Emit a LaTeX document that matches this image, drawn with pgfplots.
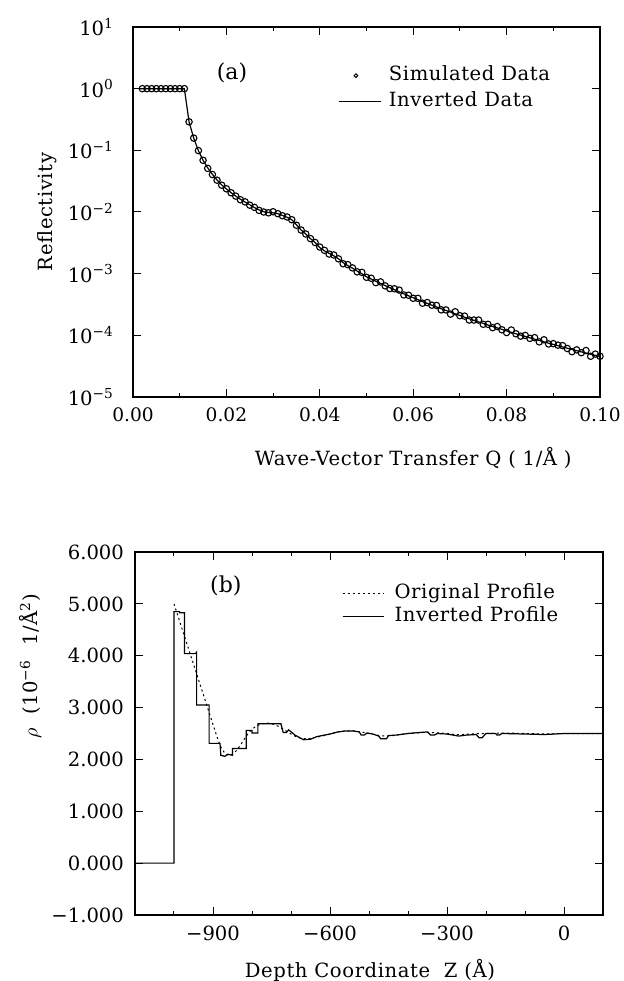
\documentclass[border=0pt]{standalone}
\usepackage{pgfplots}
\pgfplotsset{compat=1.18}
\usepackage{fontspec}
\newfontfamily\tickfont{DejaVu Serif}
\newfontfamily\labfont[LetterSpace=3]{DejaVu Serif}
\newcommand{\tf}{\tickfont\fontsize{9.3}{10}\selectfont}
\newcommand{\tfb}{\tickfont\fontsize{9.8}{10}\selectfont}
\newcommand{\lf}{\labfont\fontsize{9.8}{12}\selectfont}
\begin{document}
\begin{tikzpicture}[x=1pt,y=1pt]
\path[use as bounding box] (0,0) rectangle (311.5,490.5);
% ---------------- (a) ----------------
\begin{axis}[
  at={(66.5pt,292pt)}, anchor=south west,
  scale only axis, width=233.5pt, height=185pt,
  xmin=0, xmax=0.1, ymode=log, ymin=1e-5, ymax=10,
  axis line style={line width=0.65pt},
  xtick={0,0.02,0.04,0.06,0.08,0.1},
  xticklabels={0.00,0.02,0.04,0.06,0.08,0.10},
  minor xtick={0.01,0.03,0.05,0.07,0.09},
  ytick={1e-5,1e-4,1e-3,1e-2,1e-1,1,10},
  yticklabels={10\textsuperscript{−5},10\textsuperscript{−4},10\textsuperscript{−3},10\textsuperscript{−2},10\textsuperscript{−1},10\textsuperscript{0},10\textsuperscript{1}},
  yminorticks=false,
  tick align=inside, major tick length=4pt, minor tick length=2pt,
  every tick/.style={black,line width=0.5pt},
  xticklabel style={font=\tf, yshift=-2pt},
  yticklabel style={font=\tfb, xshift=-6pt},
  xlabel={Wave-Vector Transfer Q\ ( 1/Å )},
  xlabel style={font=\lf, at={(axis description cs:0.60,-0.165)}, anchor=center},
  ylabel={Reflectivity},
  ylabel style={font=\lf, at={(axis description cs:-0.184,0.5)}, anchor=center, rotate=0},
  legend cell align=left,
  legend style={at={(axis cs:0.0439,1)}, anchor=west, draw=none, fill=none,
    inner sep=0pt, row sep=2pt, font=\lf,
    nodes={inner sep=1pt, text height=7pt, text depth=2pt}},
]
\addplot[only marks, mark=o, mark size=1.6pt, mark options={line width=0.55pt},
  legend image code/.code={\path[draw=none] (0pt,0pt) -- (24pt,0pt); \draw[line width=0.5pt] (8.5pt,0pt) circle (0.9pt);}]
coordinates {
(0.002,1)(0.003,1)(0.004,1)(0.005,1)(0.006,1)(0.007,1)(0.008,1)(0.009,1)(0.010,1)(0.011,1)
(0.012,0.29)(0.013,0.158)(0.014,0.099)(0.015,0.069)(0.016,0.051)(0.017,0.0405)(0.018,0.0328)(0.019,0.0272)(0.020,0.0238)
(0.021,0.0205)(0.022,0.0181)(0.023,0.0158)(0.024,0.0146)(0.025,0.0129)(0.026,0.0119)(0.027,0.0106)(0.028,0.0100)(0.029,0.0097)(0.030,0.0101)
(0.031,0.0094)(0.032,0.0087)(0.033,0.0083)(0.034,0.0075)(0.035,0.0061)(0.036,0.0051)(0.037,0.0044)(0.038,0.0037)(0.039,0.0032)(0.040,0.0027)
(0.041,2.39e-3)(0.042,2.08e-3)(0.043,2.01e-3)(0.044,1.74e-3)(0.045,1.45e-3)(0.046,1.40e-3)(0.047,1.24e-3)(0.048,1.07e-3)(0.049,1.05e-3)(0.050,8.73e-4)
(0.051,8.43e-4)(0.052,7.15e-4)(0.053,7.36e-4)(0.054,6.34e-4)(0.055,5.74e-4)(0.056,5.69e-4)(0.057,5.42e-4)(0.058,4.52e-4)(0.059,4.47e-4)(0.060,3.99e-4)
(0.061,3.98e-4)(0.062,3.32e-4)(0.063,3.40e-4)(0.064,3.08e-4)(0.065,3.05e-4)(0.066,2.59e-4)(0.067,2.58e-4)(0.068,2.21e-4)(0.069,2.41e-4)(0.070,2.08e-4)
(0.071,2.05e-4)(0.072,1.77e-4)(0.073,1.77e-4)(0.074,1.77e-4)(0.075,1.51e-4)(0.076,1.51e-4)(0.077,1.33e-4)(0.078,1.39e-4)(0.079,1.23e-4)(0.080,1.11e-4)
(0.081,1.22e-4)(0.082,1.06e-4)(0.083,9.70e-5)(0.084,9.96e-5)(0.085,8.92e-5)(0.086,9.17e-5)(0.087,7.83e-5)(0.088,8.47e-5)(0.089,7.24e-5)(0.090,7.32e-5)
(0.091,6.93e-5)(0.092,6.80e-5)(0.093,6.12e-5)(0.094,5.43e-5)(0.095,5.81e-5)(0.096,5.23e-5)(0.097,5.67e-5)(0.098,4.58e-5)(0.099,4.96e-5)(0.100,4.58e-5)
};
\addlegendentry{Simulated Data}
\addplot[black, line width=0.6pt, mark=none,
  legend image code/.code={\draw[line width=0.5pt] (0pt,0pt) -- (21pt,0pt); \path[draw=none] (24pt,0pt);}]
coordinates {
(0.0015,1)(0.011,1)
(0.012,0.29)(0.013,0.158)(0.014,0.099)(0.015,0.069)(0.016,0.052)(0.017,0.0408)(0.018,0.0330)(0.019,0.0275)(0.020,0.0236)
(0.021,0.0206)(0.022,0.0181)(0.023,0.0161)(0.024,0.0145)(0.025,0.0131)(0.026,0.0118)(0.027,0.0108)(0.028,0.0101)(0.029,0.0098)(0.030,0.0097)
(0.031,0.0094)(0.032,0.0088)(0.033,0.0082)(0.034,0.0075)(0.035,0.0062)(0.036,0.0051)(0.037,0.0044)(0.038,0.0037)(0.039,0.0032)(0.040,0.00265)
(0.041,2.34e-3)(0.042,2.14e-3)(0.043,1.95e-3)(0.044,1.74e-3)(0.045,1.51e-3)(0.046,1.35e-3)(0.047,1.23e-3)(0.048,1.10e-3)(0.049,1.00e-3)(0.050,8.91e-4)
(0.051,8.18e-4)(0.052,7.53e-4)(0.053,6.94e-4)(0.054,6.40e-4)(0.055,5.92e-4)(0.056,5.47e-4)(0.057,5.07e-4)(0.058,4.71e-4)(0.059,4.38e-4)(0.060,4.07e-4)
(0.061,3.79e-4)(0.062,3.53e-4)(0.063,3.30e-4)(0.064,3.08e-4)(0.065,2.88e-4)(0.066,2.70e-4)(0.067,2.53e-4)(0.068,2.38e-4)(0.069,2.23e-4)(0.070,2.10e-4)
(0.071,1.97e-4)(0.072,1.86e-4)(0.073,1.75e-4)(0.074,1.65e-4)(0.075,1.56e-4)(0.076,1.47e-4)(0.077,1.39e-4)(0.078,1.32e-4)(0.079,1.25e-4)(0.080,1.18e-4)
(0.081,1.12e-4)(0.082,1.06e-4)(0.083,1.01e-4)(0.084,9.58e-5)(0.085,9.10e-5)(0.086,8.65e-5)(0.087,8.24e-5)(0.088,7.84e-5)(0.089,7.46e-5)(0.090,7.11e-5)
(0.091,6.79e-5)(0.092,6.48e-5)(0.093,6.18e-5)(0.094,5.90e-5)(0.095,5.64e-5)(0.096,5.39e-5)(0.097,5.15e-5)(0.098,4.93e-5)(0.099,4.72e-5)(0.100,4.53e-5)
};
\addlegendentry{Inverted Data}
\node[font=\tickfont\fontsize{11}{12}\selectfont] at (axis cs:0.0212,1.82) {(a)};
\end{axis}
% ---------------- (b) ----------------
\begin{axis}[
  at={(67.5pt,33pt)}, anchor=south west,
  scale only axis, width=234pt, height=181.5pt,
  xmin=-1100, xmax=100, ymin=-1, ymax=6,
  axis line style={line width=0.65pt},
  xtick={-900,-600,-300,0},
  xticklabels={−900,−600,−300,0},
  minor xtick={-1000,-800,-700,-500,-400,-200,-100},
  ytick={-1,0,1,2,3,4,5,6},
  yticklabels={−1.000,0.000,1.000,2.000,3.000,4.000,5.000,6.000},
  tick align=inside, major tick length=4pt, minor tick length=2pt,
  every tick/.style={black,line width=0.5pt},
  xticklabel style={font=\tfb, yshift=-2pt},
  yticklabel style={font=\tfb, xshift=-2pt},
  xlabel={Depth Coordinate\ \ Z (Å)},
  xlabel style={font=\lf, at={(axis description cs:0.502,-0.152)}, anchor=center},
  ylabel={$\rho$\ \ (10\textsuperscript{−6}\ \ 1/Å\textsuperscript{2})},
  ylabel style={font=\lf, at={(axis description cs:-0.224,0.685)}, anchor=center, rotate=0},
  legend cell align=left,
  legend style={at={(axis cs:-570,4.97)}, anchor=west, draw=none, fill=none,
    inner sep=0pt, row sep=0.5pt, font=\lf,
    nodes={inner sep=1pt, text height=7pt, text depth=2pt}},
]
\addplot[black, line width=0.5pt, dash pattern=on 1pt off 1.5pt,
  legend image code/.code={\draw[line width=0.5pt, dash pattern=on 1pt off 1.5pt] (0pt,0pt) -- (20.5pt,0pt); \path[draw=none] (25pt,0pt);}]
coordinates {
(-1000,5.0)(-960,4.07)(-920,3.14)(-890,2.44)(-880,2.24)(-870,2.12)(-860,2.08)(-850,2.10)(-840,2.17)(-830,2.27)
(-820,2.39)(-810,2.50)(-800,2.58)(-790,2.64)(-775,2.69)(-760,2.70)(-745,2.68)(-730,2.63)(-715,2.56)(-700,2.49)
(-685,2.43)(-670,2.40)(-655,2.40)(-640,2.42)(-620,2.45)(-600,2.49)(-580,2.53)(-560,2.55)(-540,2.55)(-520,2.53)
(-500,2.50)(-480,2.47)(-460,2.45)(-440,2.46)(-420,2.48)(-400,2.50)(-380,2.51)(-360,2.52)(-340,2.52)(-320,2.51)
(-300,2.50)(-280,2.48)(-260,2.48)(-240,2.49)(-220,2.50)(-200,2.50)(-150,2.51)(-100,2.50)(-50,2.49)(0,2.50)(100,2.50)
};
\addlegendentry{Original Profile}
\addplot[black, line width=0.6pt,
  legend image code/.code={\draw[line width=0.5pt] (0pt,0pt) -- (20.5pt,0pt); \path[draw=none] (25pt,0pt);}]
coordinates {
(-1100,0)(-1000,0)(-1000,4.85)(-986,4.85)(-986,4.83)(-973,4.83)(-973,4.04)(-945,4.04)(-942,4.07)(-942,3.05)
(-910,3.05)(-910,2.31)(-882,2.31)(-880,2.08)(-870,2.06)(-862,2.10)(-850,2.08)(-850,2.21)(-815,2.21)(-815,2.56)
(-800,2.56)(-800,2.51)(-785,2.51)(-785,2.69)(-726,2.69)(-720,2.52)(-712,2.52)(-706,2.57)(-690,2.47)(-668,2.38)
(-650,2.39)(-634,2.44)(-600,2.49)(-580,2.53)(-560,2.55)(-540,2.55)(-525,2.53)(-520,2.47)(-512,2.47)(-505,2.51)
(-490,2.49)(-475,2.45)(-470,2.40)(-455,2.40)(-450,2.46)(-430,2.47)(-400,2.50)(-370,2.52)(-350,2.53)(-342,2.47)
(-332,2.47)(-325,2.50)(-300,2.49)(-285,2.47)(-270,2.45)(-250,2.47)(-225,2.48)(-218,2.42)(-210,2.42)(-200,2.50)
(-175,2.50)(-172,2.47)(-165,2.47)(-160,2.50)(-100,2.49)(-50,2.48)(0,2.50)(100,2.50)
};
\addlegendentry{Inverted Profile}
\node[font=\tickfont\fontsize{11}{12}\selectfont] at (axis cs:-867,5.35) {(b)};
\end{axis}
\end{tikzpicture}
\end{document}
